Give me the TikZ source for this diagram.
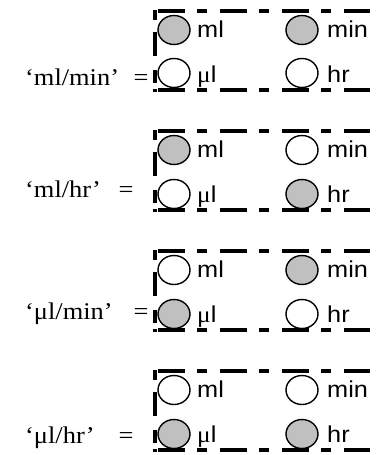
\documentclass[tikz,border=0pt]{standalone}
\usepackage{fontspec}
\setmainfont{Liberation Serif}
\newfontfamily\unitfont{Liberation Sans}
\usetikzlibrary{shapes.geometric}
\definecolor{lampgray}{HTML}{C0C0C0}
\newcommand{\wide}[1]{\scalebox{1.1}[1]{#1}}
\tikzset{
	boxline/.style={line width=4pt, dash pattern=on 27pt off 12pt on 10pt off 13pt},
	sideline/.style={line width=3.2pt, dash pattern=on 10pt off 12pt on 24pt off 14pt on 13pt off 6pt on 4pt off 20pt},
	lamp/.style={ellipse, draw, line width=1.4pt, minimum width=32pt, minimum height=29pt, inner sep=0pt},
	lit/.style={lamp, fill=lampgray},
	unlit/.style={lamp, fill=white},
	unit/.style={anchor=base west, inner sep=0pt, font=\unitfont\fontsize{23}{27}\selectfont},
	rate/.style={anchor=base west, inner sep=0pt, font=\fontsize{24}{28}\selectfont},
	eqsign/.style={anchor=base, inner sep=0pt, font=\fontsize{24}{28}\selectfont}
}
\begin{document}
\begin{tikzpicture}[x=1pt,y=-1pt]
	\useasboundingbox (0,0) rectangle (381,455);

		\draw[boxline] (158,11) -- (370,11);
		\draw[boxline] (158,90) -- (370,90);
		\draw[sideline] (155,10) -- (155,92);
		\node[lit] (ml1) at (174,30) {};
		\node[lit] (min1) at (302,30) {};
		\node[unlit] (ul1) at (174,73) {};
		\node[unlit] (hr1) at (302,73) {};
		\node[unit] (mlt1) at (197,37) {\wide{ml}};
		\node[unit] (mint1) at (327,37) {\wide{min}};
		\node[unit] (ult1) at (197,82) {\wide{{\rmfamily μ}l}};
		\node[unit] (hrt1) at (327,82) {\wide{hr}};
		\node[rate] (rate1) at (25,85) {\wide{‘ml/min’}};
		\node[eqsign] (eq1) at (141,85) {\wide{=}};

		\draw[boxline] (158,131) -- (370,131);
		\draw[boxline] (158,210) -- (370,210);
		\draw[sideline] (155,130) -- (155,212);
		\node[lit] (ml2) at (174,150) {};
		\node[unlit] (min2) at (302,150) {};
		\node[unlit] (ul2) at (174,194) {};
		\node[lit] (hr2) at (302,194) {};
		\node[unit] (mlt2) at (197,157) {\wide{ml}};
		\node[unit] (mint2) at (327,157) {\wide{min}};
		\node[unit] (ult2) at (197,202) {\wide{{\rmfamily μ}l}};
		\node[unit] (hrt2) at (327,202) {\wide{hr}};
		\node[rate] (rate2) at (25,197) {\wide{‘ml/hr’}};
		\node[eqsign] (eq2) at (126,197) {\wide{=}};

		\draw[boxline] (158,251) -- (370,251);
		\draw[boxline] (158,330) -- (370,330);
		\draw[sideline] (155,250) -- (155,332);
		\node[unlit] (ml3) at (174,270) {};
		\node[lit] (min3) at (302,270) {};
		\node[lit] (ul3) at (174,314) {};
		\node[unlit] (hr3) at (302,314) {};
		\node[unit] (mlt3) at (197,277) {\wide{ml}};
		\node[unit] (mint3) at (327,277) {\wide{min}};
		\node[unit] (ult3) at (197,322) {\wide{{\rmfamily μ}l}};
		\node[unit] (hrt3) at (327,322) {\wide{hr}};
		\node[rate] (rate3) at (25,319) {\wide{‘μl/min’}};
		\node[eqsign] (eq3) at (141,319) {\wide{=}};

		\draw[boxline] (158,371) -- (370,371);
		\draw[boxline] (158,450) -- (370,450);
		\draw[sideline] (155,370) -- (155,452);
		\node[unlit] (ml4) at (174,390) {};
		\node[unlit] (min4) at (302,390) {};
		\node[lit] (ul4) at (174,434) {};
		\node[lit] (hr4) at (302,434) {};
		\node[unit] (mlt4) at (197,397) {\wide{ml}};
		\node[unit] (mint4) at (327,397) {\wide{min}};
		\node[unit] (ult4) at (197,442) {\wide{{\rmfamily μ}l}};
		\node[unit] (hrt4) at (327,442) {\wide{hr}};
		\node[rate] (rate4) at (25,443) {\wide{‘μl/hr’}};
		\node[eqsign] (eq4) at (126,443) {\wide{=}};
\end{tikzpicture}
\end{document}
